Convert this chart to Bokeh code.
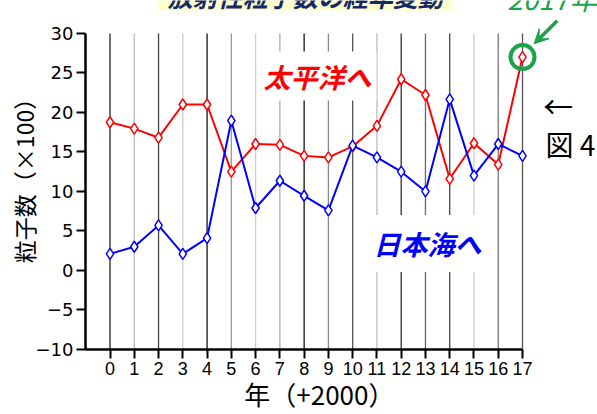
import math
from bokeh.plotting import figure
from bokeh.models import Range1d, Label, Arrow, VeeHead, FixedTicker
from bokeh.core.properties import value
from bokeh.embed import file_html
from bokeh.resources import INLINE

# ---- data ----
years = list(range(18))  # year offset from 2000
pacific = [18.75, 17.95, 16.8, 21.0, 21.0, 12.5, 16.0, 15.9, 14.5, 14.3,
           15.7, 18.3, 24.2, 22.2, 11.6, 16.1, 13.4, 27.0]
japan_sea = [2.1, 3.0, 5.7, 2.1, 4.1, 18.95, 7.9, 11.35, 9.45, 7.6,
             15.8, 14.3, 12.5, 10.0, 21.65, 12.0, 16.0, 14.5]
y_ticks = [-10, -5, 0, 5, 10, 15, 20, 25, 30]
y_tick_labels = ["\u221210", "\u22125", "0", "5", "10", "15", "20", "25", "30"]
x_tick_labels = [str(y) for y in years]

# ---- styles ----
grid_colors = ["#222222", "#bbbbbb", "#444444", "#cccccc", "#111111", "#999999",
               "#cccccc", "#aaaaaa", "#111111", "#888888", "#555555", "#bbbbbb",
               "#333333", "#666666", "#444444", "#cccccc", "#777777", "#555555"]
JP = "Noto Sans CJK JP"
GREEN = "#1aa34a"

p = figure(width=597, height=414, output_backend="svg", toolbar_location=None,
           x_range=Range1d(-1.01, 20.09), y_range=Range1d(-10, 34.16),
           min_border_left=85, min_border_right=0, min_border_top=0,
           min_border_bottom=64)
p.outline_line_color = None
p.xgrid.visible = False
p.ygrid.visible = False
p.background_fill_color = "white"
p.border_fill_color = "white"

# vertical grid lines per year
p.segment(x0=years, y0=[y_ticks[0]] * len(years), x1=years,
          y1=[y_ticks[-1]] * len(years), line_color=grid_colors, line_width=1.3)

# title box at top (cut off by the page edge, as in the reference)
p.quad(left=1.96, right=14.15, bottom=32.9, top=35, fill_color="#ffffcc",
       line_color=None)
p.text(x=[8.05], y=[32.45], text=["放射性粒子数の経年変動"], text_font=value(JP),
       text_font_size="25px", text_font_style="bold italic", text_color="#14296b",
       text_align="center", text_baseline="bottom")

# series
p.line(years, pacific, line_color="#ff0000", line_width=2)
p.scatter(years, pacific, marker="diamond", size=11, line_color="#ff0000",
          fill_color="white", line_width=1.5)
p.line(years, japan_sea, line_color="#0000ff", line_width=2)
p.scatter(years, japan_sea, marker="diamond", size=11, line_color="#0000ff",
          fill_color="white", line_width=1.5)

# highlight 2017
p.scatter([years[-1]], [pacific[-1]], marker="circle", size=24, fill_color=None,
          line_color=GREEN, line_width=4)
p.add_layout(Arrow(x_start=18.43, y_start=31.6, x_end=17.48, y_end=28.7,
                   line_color=GREEN, line_width=3.5,
                   end=VeeHead(size=14, line_color=GREEN, fill_color=GREEN,
                               line_width=1)))
p.text(x=[16.37], y=[31.95], text=["2017年"], text_font=value(JP),
       text_font_size="28px", text_font_style="italic", text_color=GREEN,
       text_align="left", text_baseline="bottom")

# series labels
p.add_layout(Label(x=8.55, y=24.6, text="太平洋へ", text_font=JP,
                   text_font_size="27px", text_font_style="bold italic",
                   text_color="#ff0000", text_align="center",
                   text_baseline="middle", background_fill_color="white",
                   padding=5))
p.add_layout(Label(x=13.08, y=3.4, text="日本海へ", text_font=JP,
                   text_font_size="27px", text_font_style="bold italic",
                   text_color="#0000ff", text_align="center",
                   text_baseline="middle", background_fill_color="white",
                   padding=9))

# side notes
p.text(x=[18.47], y=[20.9], text=["←"], text_font=value(JP),
       text_font_size="30px", text_color="black", text_align="center",
       text_baseline="middle")
p.text(x=[17.95], y=[16.0], text=["図 4"], text_font=value(JP),
       text_font_size="28px", text_color="black", text_align="left",
       text_baseline="middle")

# axes
yax = p.yaxis[0]
yax.ticker = FixedTicker(ticks=y_ticks)
yax.major_label_overrides = {t: l for t, l in zip(y_ticks, y_tick_labels)}
yax.bounds = (y_ticks[0], y_ticks[-1])
yax.axis_line_width = 2.5
yax.axis_line_color = "black"
yax.major_tick_line_width = 2
yax.major_tick_out = 9
yax.major_tick_in = 0
yax.minor_tick_line_color = None
yax.major_label_text_font = "DejaVu Sans"
yax.major_label_text_font_size = "18px"
yax.major_label_text_color = "black"
yax.major_label_standoff = 3
yax.axis_label = "粒子数（×100）"
yax.axis_label_text_font = JP
yax.axis_label_text_font_size = "23px"
yax.axis_label_text_font_style = "normal"
yax.axis_label_text_color = "black"
yax.axis_label_standoff = -8

xax = p.xaxis[0]
xax.ticker = FixedTicker(ticks=years)
xax.major_label_overrides = {t: l for t, l in zip(years, x_tick_labels)}
xax.bounds = (-1.01, years[-1])
xax.axis_line_width = 2.5
xax.axis_line_color = "black"
xax.major_tick_line_width = 2
xax.major_tick_out = 9
xax.major_tick_in = 0
xax.minor_tick_line_color = None
xax.major_label_text_font = "Liberation Sans"
xax.major_label_text_font_size = "18px"
xax.major_label_text_color = "black"
xax.major_label_standoff = 3
# trailing ideographic spaces shift the centred title left, as in the reference
xax.axis_label = "年（+2000）\u3000\u3000\u2009"
xax.axis_label_text_font = JP
xax.axis_label_text_font_size = "26px"
xax.axis_label_text_font_style = "normal"
xax.axis_label_text_color = "black"
xax.axis_label_standoff = -3

open("out.html", "w").write(file_html(p, INLINE))
